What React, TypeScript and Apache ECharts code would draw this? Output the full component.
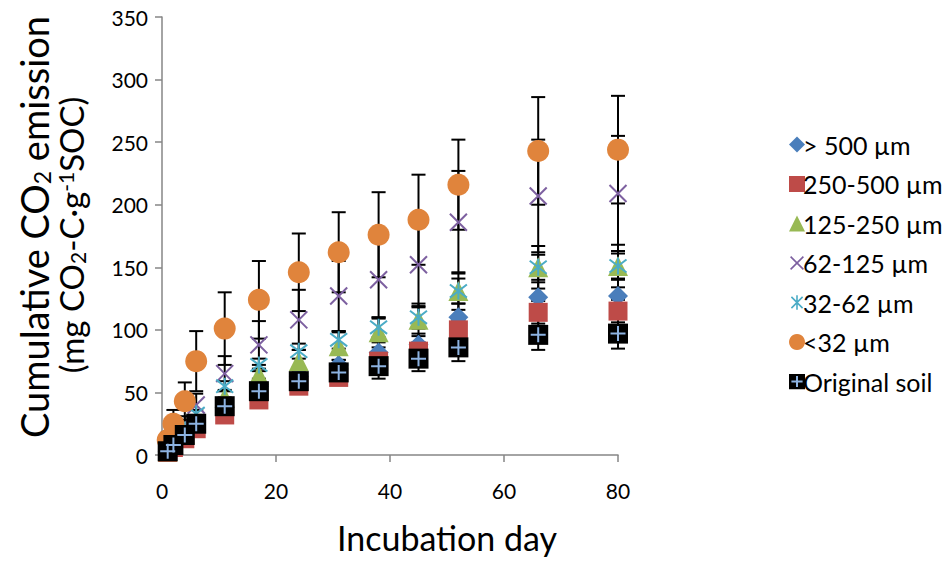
import React, { useEffect, useRef } from "react";
import * as echarts from "echarts";

const days = [1, 2, 4, 6, 11, 17, 24, 31, 38, 45, 52, 66, 80];

const seriesNames = ["> 500 µm", "250-500 µm", "125-250 µm", "62-125 µm", "32-62 µm", "<32 µm", "Original soil"];

const over500 = [3, 8, 16, 26, 38, 55, 63, 72, 82, 88, 110, 126, 127];
const over500Err = [1, 2, 3, 4, 5, 6, 7, 8, 8, 9, 11, 12, 13];
const r250_500 = [2, 6, 13, 21, 32, 44, 55, 62, 75, 83, 100, 114, 115];
const r250_500Err = [1, 1, 2, 3, 4, 5, 5, 6, 6, 7, 8, 9, 9];
const r125_250 = [3, 9, 17, 28, 46, 64, 75, 87, 98, 108, 131, 150, 151];
const r125_250Err = [1, 2, 3, 4, 6, 8, 9, 11, 12, 13, 15, 17, 17];
const r62_125 = [5, 15, 25, 40, 65, 88, 108, 127, 140, 152, 186, 207, 209];
const r62_125Err = [2, 4, 6, 9, 14, 19, 24, 28, 31, 34, 41, 45, 46];
const r32_62 = [4, 11, 20, 33, 55, 72, 83, 92, 102, 110, 131, 150, 151];
const r32_62Err = [1, 1, 2, 3, 4, 5, 6, 7, 8, 9, 10, 10, 10];
const under32 = [12, 25, 43, 75, 101, 124, 146, 162, 176, 188, 216, 243, 244];
const under32Err = [6, 11, 15, 24, 29, 31, 31, 32, 34, 36, 36, 43, 43];
const original = [3, 8, 16, 25, 39, 51, 59, 66, 71, 77, 86, 96, 97];
const originalErr = [2, 3, 4, 5, 7, 8, 10, 10, 10, 10, 11, 12, 12];

const xTicks = { min: 0, max: 80, interval: 20 };
const yTicks = { min: 0, max: 350, interval: 50 };

const FONT = "Lato, 'Open Sans', sans-serif";

const svgIcon = (inner: string) =>
  "image://data:image/svg+xml;utf8," +
  encodeURIComponent(
    `<svg xmlns="http://www.w3.org/2000/svg" width="20" height="20" viewBox="0 0 20 20">${inner}</svg>`
  );

const X_PATH = "path://M0,0L10,10M10,0L0,10";
const STAR_PATH = "path://M0,0L10,10M10,0L0,10M5,-1.5L5,11.5";
const PLUS_PATH = "path://M5,0L5,10M0,5L10,5";

export default function App() {
  const ref = useRef<HTMLDivElement>(null);

  useEffect(() => {
    document.body.style.margin = "0";
    if (!ref.current) return;
    const chart = echarts.init(ref.current, null, { renderer: "svg" });

    const colors = ["#4A7EBB", "#BE4B48", "#98B954", "#7D60A0", "#4BACC6", "#E0843C", "#000000"];
    const values = [over500, r250_500, r125_250, r62_125, r32_62, under32, original];
    const errs = [over500Err, r250_500Err, r125_250Err, r62_125Err, r32_62Err, under32Err, originalErr];

    const errSeries = values.map((v, si) => ({
      type: "custom",
      name: "err" + si,
      silent: true,
      z: 1,
      encode: { x: 0, y: [1, 2] },
      data: days.map((d, i) => [d, v[i] - errs[si][i], v[i] + errs[si][i]]),
      renderItem: (params: any, api: any) => {
        const x = api.value(0);
        const p1 = api.coord([x, api.value(1)]);
        const p2 = api.coord([x, api.value(2)]);
        const cw = 7;
        const st = { stroke: "#000", lineWidth: 2 };
        return {
          type: "group",
          children: [
            { type: "line", shape: { x1: p1[0], y1: p1[1], x2: p2[0], y2: p2[1] }, style: st },
            { type: "line", shape: { x1: p1[0] - cw, y1: p1[1], x2: p1[0] + cw, y2: p1[1] }, style: st },
            { type: "line", shape: { x1: p2[0] - cw, y1: p2[1], x2: p2[0] + cw, y2: p2[1] }, style: st },
          ],
        };
      },
    }));

    const symbols: any[] = ["diamond", "rect", "triangle", X_PATH, STAR_PATH, "circle", "rect"];
    const sizes = [20, 19, 20, 17, 17, 22, 20];

    const scatterSeries: any[] = values.map((v, si) => {
      const stroke = si === 3 || si === 4;
      return {
        type: "scatter",
        name: seriesNames[si],
        symbol: symbols[si],
        symbolSize: sizes[si],
        z: 3,
        data: days.map((d, i) => [d, v[i]]),
        itemStyle: stroke
          ? { color: "rgba(0,0,0,0)", borderColor: colors[si], borderWidth: 2, opacity: 1 }
          : { color: colors[si], opacity: 1 },
      };
    });

    scatterSeries.push({
      type: "scatter",
      name: "plusOverlay",
      symbol: PLUS_PATH,
      symbolSize: 15,
      z: 4,
      data: days.map((d, i) => [d, original[i]]),
      itemStyle: { color: "rgba(0,0,0,0)", borderColor: "#8DB3E2", borderWidth: 2, opacity: 1 },
    });

    const legendIcons: any[] = [
      "diamond",
      "rect",
      "triangle",
      svgIcon(`<path d="M2,2L18,18M18,2L2,18" stroke="#7D60A0" stroke-width="2" fill="none"/>`),
      svgIcon(`<path d="M3,3L17,17M17,3L3,17M10,1L10,19" stroke="#4BACC6" stroke-width="2" fill="none"/>`),
      "circle",
      svgIcon(`<rect x="0" y="0" width="20" height="20" fill="#000"/><path d="M10,3L10,17M3,10L17,10" stroke="#8DB3E2" stroke-width="2.5" fill="none"/>`),
    ];

    const axisLineStyle = { color: "#868686", width: 1.5 };

    chart.setOption({
      animation: false,
      color: colors,
      grid: { left: 162, right: 327, top: 17, bottom: 108, containLabel: false },
      xAxis: {
        type: "value",
        min: xTicks.min,
        max: xTicks.max,
        interval: xTicks.interval,
        splitLine: { show: false },
        axisLine: { show: true, onZero: false, lineStyle: axisLineStyle },
        axisTick: { show: true, length: 7, lineStyle: axisLineStyle },
        axisLabel: { fontSize: 21, color: "#000", fontFamily: FONT, margin: 25 },
      },
      yAxis: {
        type: "value",
        min: yTicks.min,
        max: yTicks.max,
        interval: yTicks.interval,
        splitLine: { show: false },
        axisLine: { show: true, onZero: false, lineStyle: axisLineStyle },
        axisTick: { show: true, length: 7, lineStyle: axisLineStyle },
        axisLabel: { fontSize: 21, color: "#000", fontFamily: FONT, margin: 14 },
      },
      legend: {
        orient: "vertical",
        left: 784,
        top: 127,
        itemWidth: 16,
        itemHeight: 16,
        itemGap: 14.5,
        data: seriesNames.map((n, i) => ({ name: n, icon: legendIcons[i] })),
        textStyle: { fontSize: 25, color: "#000", fontFamily: FONT, lineHeight: 25, padding: [0, 0, 0, -7] },
        selectedMode: false,
      },
      graphic: [
        {
          type: "text",
          x: 34,
          y: 227,
          rotation: Math.PI / 2,
          style: {
            text: "{a|Cumulative CO}{sub|2}{a| emission}",
            rich: {
              a: { fontSize: 38, fontFamily: FONT, fill: "#000" },
              sub: { fontSize: 23, fontFamily: FONT, fill: "#000", verticalAlign: "bottom", padding: [10, 0, 0, 0] },
            },
            align: "center",
            verticalAlign: "middle",
          },
        },
        {
          type: "text",
          x: 71,
          y: 235,
          rotation: Math.PI / 2,
          style: {
            text: "{a|(mg CO}{sub|2}{a|-C·g}{sup|-1}{a|SOC)}",
            rich: {
              a: { fontSize: 33, fontFamily: FONT, fill: "#000" },
              sub: { fontSize: 21, fontFamily: FONT, fill: "#000", verticalAlign: "bottom", padding: [9, 0, 0, 0] },
              sup: { fontSize: 21, fontFamily: FONT, fill: "#000", verticalAlign: "top" },
            },
            align: "center",
            verticalAlign: "middle",
          },
        },
        {
          type: "text",
          x: 447,
          y: 537,
          style: {
            text: "Incubation day",
            fontSize: 34,
            fontFamily: FONT,
            fill: "#000",
            align: "center",
            verticalAlign: "middle",
          },
        },
      ],
      series: [...errSeries, ...scatterSeries],
    });

    return () => chart.dispose();
  }, []);

  return <div ref={ref} style={{ width: 945, height: 563 }} />;
}
